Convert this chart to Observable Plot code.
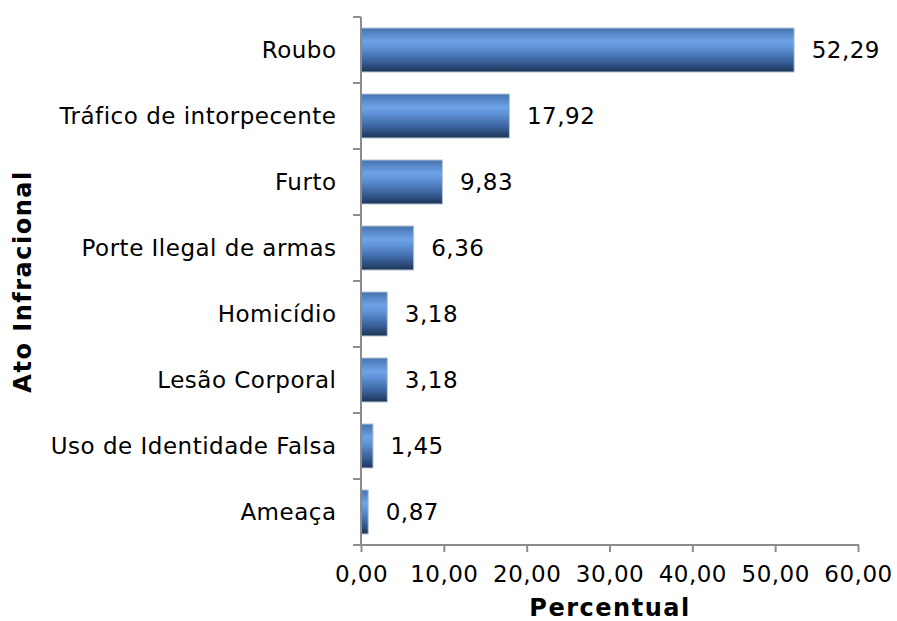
<!DOCTYPE html>
<html>
<head>
<meta charset="utf-8">
<script src="https://cdn.jsdelivr.net/npm/d3@7"></script>
<script src="https://cdn.jsdelivr.net/npm/@observablehq/plot@0.6"></script>
<style>
  html, body { margin: 0; padding: 0; background: #fff; }
  svg { display: block; }
  svg text { letter-spacing: 0.5px; }
  svg g[font-weight="bold"] text { letter-spacing: 1.5px; }
</style>
</head>
<body>
<div id="chart"></div>
<script>
const categories = ["Roubo", "Tráfico de intorpecente", "Furto", "Porte Ilegal de armas", "Homicídio", "Lesão Corporal", "Uso de Identidade Falsa", "Ameaça"];
const values = [52.29, 17.92, 9.83, 6.36, 3.18, 3.18, 1.45, 0.87];
const xTicks = [0, 10, 20, 30, 40, 50, 60];
const xLabel = "Percentual";
const yLabel = "Ato Infracional";

const data = categories.map((c, i) => ({category: c, value: values[i]}));
const fmt = d => d.toFixed(2).replace(".", ",");
const FONT = "'DejaVu Sans', Verdana, sans-serif";
const AXIS = "#8c8c8c";

const svgNS = "http://www.w3.org/2000/svg";
function el(name, attrs) {
  const e = document.createElementNS(svgNS, name);
  for (const k in attrs) e.setAttribute(k, attrs[k]);
  return e;
}

// gradient defs
function defsMark() {
  const defs = el("defs", {});
  const g = el("linearGradient", {id: "barGrad", x1: 0, y1: 0, x2: 0, y2: 1});
  [["0", "#4673b0"], ["0.3", "#6ea3e6"], ["0.45", "#5f92d6"], ["0.75", "#3a629c"], ["1", "#1c3456"]]
    .forEach(([o, c]) => g.appendChild(el("stop", {offset: o, "stop-color": c})));
  defs.appendChild(g);
  return defs;
}

// axis lines and band-boundary ticks drawn from the scales
function axisLines(index, scales, values, dims) {
  const g = el("g", {stroke: AXIS, "stroke-width": 2, fill: "none"});
  const x0 = scales.x(0), x1 = scales.x(60);
  const yb = dims.height - dims.marginBottom, yt = dims.marginTop;
  g.appendChild(el("line", {x1: x0, x2: x0, y1: yt, y2: yb}));
  g.appendChild(el("line", {x1: x0 - 8, x2: x1 + 1, y1: yb, y2: yb}));
  for (let i = 0; i <= categories.length; i++) {
    const y = yt + i * (yb - yt) / categories.length;
    g.appendChild(el("line", {x1: x0 - 8, x2: x0, y1: y, y2: y}));
  }
  return g;
}

const chart = Plot.plot({
  width: 897,
  height: 621,
  marginLeft: 361,
  marginRight: 39,
  marginTop: 17,
  marginBottom: 76,
  style: {fontFamily: FONT, background: "#fff", color: "#000", overflow: "visible"},
  x: {domain: [0, 60], axis: null},
  y: {domain: categories, paddingInner: 0.34, paddingOuter: 0.17, axis: null},
  marks: [
    defsMark,
    Plot.barX(data, {y: "category", x: "value", fill: "url(#barGrad)", stroke: "#b8c4d4", strokeWidth: 1}),
    axisLines,
    Plot.axisX(xTicks, {
      anchor: "bottom", tickSize: 7, stroke: AXIS, strokeWidth: 2,
      tickFormat: fmt, fontSize: 23, tickPadding: 13, label: null, fill: "#000"
    }),
    Plot.axisY({
      anchor: "left", tickSize: 0, tickPadding: 25, fontSize: 23, label: null, fill: "#000"
    }),
    Plot.text(data, {y: "category", x: "value", text: d => fmt(d.value), dx: 17, textAnchor: "start", fontSize: 23, fill: "#000"}),
    Plot.text([xLabel], {frameAnchor: "bottom", dy: 63, lineAnchor: "middle", textAnchor: "middle", fontSize: 24, fontWeight: "bold", fill: "#000"}),
    Plot.text([yLabel], {frameAnchor: "left", dx: -338, rotate: -90, lineAnchor: "middle", textAnchor: "middle", fontSize: 24, fontWeight: "bold", fill: "#000"})
  ]
});
document.getElementById("chart").appendChild(chart);
</script>
</body>
</html>
